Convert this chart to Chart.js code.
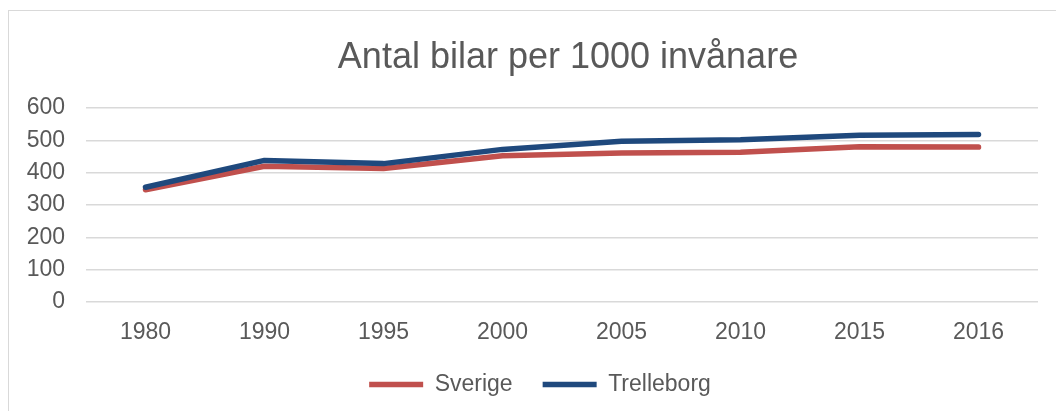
<!DOCTYPE html>
<html>
<head>
<meta charset="utf-8">
<script src="https://cdn.jsdelivr.net/npm/chart.js@4"></script>
<style>
  body { margin: 0; background: #fff; overflow: hidden; }
  #frame { position: absolute; left: 8px; top: 10px; width: 1100px; height: 500px; border: 1px solid #d9d9d9; }
  #wrap { position: absolute; left: 0; top: 0; width: 1056px; height: 411px; }
</style>
</head>
<body>
<div id="frame"></div>
<div id="wrap"><canvas id="bilChart" width="1056" height="411"></canvas></div>
<script>
// data
const years = ['1980', '1990', '1995', '2000', '2005', '2010', '2015', '2016'];
const sverige = [347, 420, 413, 452, 461, 463, 480, 479];
const trelleborg = [355, 438, 428, 472, 497, 502, 516, 518];

const grey = '#595959';
const fontFam = '"Liberation Sans", Arial, sans-serif';

// legend höjd + flytta titel/legend mot mitten av ramen
const boxFix = {
    id: 'boxFix',
    afterInit(chart) {
        const lg = chart.legend;
        const orig = lg.fit;
        lg.fit = function () {
            orig.call(this);
            this.height = 59;
        };
    },
    afterLayout(chart) {
        chart.titleBlock.left = 98;   // titelns mitt ~568
        chart.legend.left += 42;      // legendens mitt ~540
        chart.legend.top -= 9;
        chart.legend.bottom -= 9;
    }
};

new Chart(document.getElementById('bilChart'), {
    type: 'line',
    data: {
        labels: years,
        datasets: [{
            label: 'Sverige',
            data: sverige,
            borderColor: '#C0504D',
            backgroundColor: '#C0504D',
            borderWidth: 5.5,
            borderCapStyle: 'round',
            borderJoinStyle: 'round',
            pointRadius: 0,
            tension: 0,
            order: 1
        }, {
            label: 'Trelleborg',
            data: trelleborg,
            borderColor: '#1F497D',
            backgroundColor: '#1F497D',
            borderWidth: 5.5,
            borderCapStyle: 'round',
            borderJoinStyle: 'round',
            pointRadius: 0,
            tension: 0,
            order: 0
        }]
    },
    options: {
        responsive: false,
        animation: false,
        layout: { padding: { left: 0, right: 18, top: 0, bottom: 0 } },
        plugins: {
            title: {
                display: true,
                text: 'Antal bilar per 1000 invånare',
                color: grey,
                font: { family: fontFam, size: 36, weight: 'normal' },
                padding: { top: 36, bottom: 28.8 }
            },
            legend: {
                position: 'bottom',
                labels: {
                    usePointStyle: true,
                    pointStyle: 'line',
                    pointStyleWidth: 54,
                    color: grey,
                    padding: 30,
                    font: { family: fontFam, size: 23 },
                    sort: (a, b) => a.datasetIndex - b.datasetIndex
                }
            },
            tooltip: { enabled: false }
        },
        scales: {
            x: {
                offset: true,
                grid: { display: false },
                border: { display: false },
                ticks: { color: grey, padding: 9, font: { family: fontFam, size: 23 } },
                afterFit(scale) { scale.height = 50; }
            },
            y: {
                min: 0,
                max: 600,
                ticks: { stepSize: 100, color: grey, padding: 21, font: { family: fontFam, size: 23 } },
                grid: { color: '#d9d9d9', lineWidth: 1.5, drawTicks: false },
                border: { display: false },
                afterFit(scale) { scale.width = 86; }
            }
        }
    },
    plugins: [boxFix]
});
</script>
</body>
</html>
